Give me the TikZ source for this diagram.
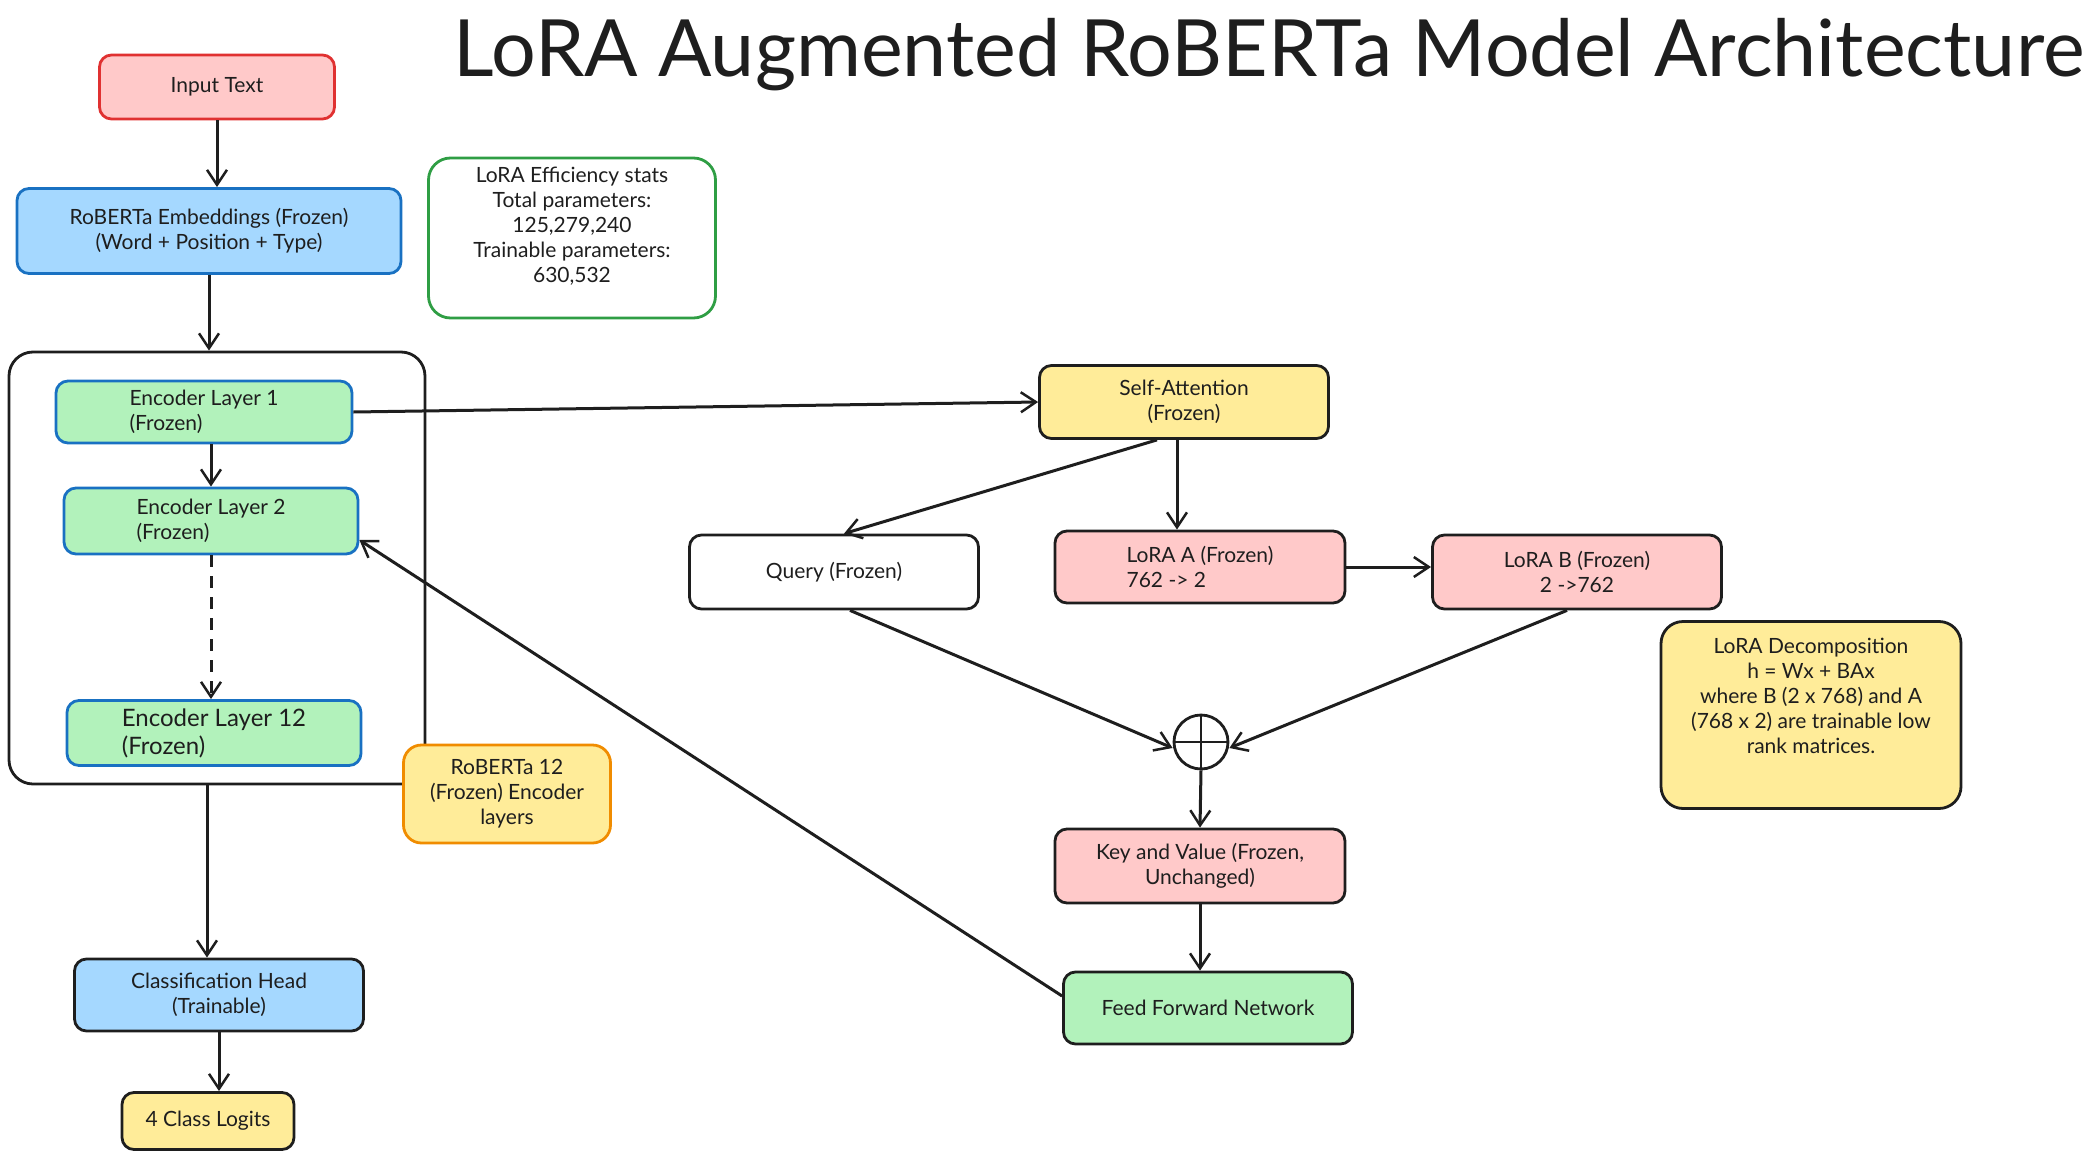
\documentclass[tikz,border=0pt]{standalone}
\usepackage{fontspec}
\setmainfont{Lato}
\usetikzlibrary{shapes,arrows.meta,positioning}

\definecolor{redfill}{HTML}{FFC9C9}
\definecolor{redline}{HTML}{E03131}
\definecolor{bluefill}{HTML}{A5D8FF}
\definecolor{blueline}{HTML}{1971C2}
\definecolor{greenfill}{HTML}{B2F2BB}
\definecolor{greenline}{HTML}{2F9E44}
\definecolor{yellowfill}{HTML}{FFEC99}
\definecolor{orangeline}{HTML}{F08C00}
\definecolor{ink}{HTML}{1E1E1E}

\begin{document}
\begin{tikzpicture}[x=1pt, y=-1pt, font=\fontsize{21}{25}\selectfont]
	\tikzstyle{block} = [rectangle, draw=ink, line width=2.8pt, text=ink,
	align=center, rounded corners=12pt, minimum width=289pt, minimum height=72pt]
	\tikzstyle{line} = [draw=ink, -{Straight Barb[length=15pt,width=20pt,line width=2.5pt]}, line width=3pt]
	\useasboundingbox (0,0) rectangle (2097,1159);
	% Title
	\node [text=ink, font=\fontsize{79}{84}\selectfont] (title) at (1269,55) {LoRA Augmented RoBERTa Model Architecture};
	% Left column
	\node [block, fill=redfill, draw=redline, minimum width=235pt, minimum height=64pt] (input) at (217,87) {Input Text};
	\node [block, fill=bluefill, draw=blueline, minimum width=384pt, minimum height=85pt] (embed) at (209,231) {RoBERTa Embeddings (Frozen)\\(Word + Position + Type)};
	\node [block, fill=white, draw=greenline, minimum width=287pt, minimum height=160pt, rounded corners=22pt] (stats) at (572,238) {LoRA Efficiency stats\\Total parameters:\\125,279,240\\Trainable parameters:\\630,532\\[2pt]};
	\node [draw=ink, line width=2.8pt, rounded corners=24pt, minimum width=416pt, minimum height=432pt] (stack) at (217,568) {};
	\node [block, fill=greenfill, draw=blueline, align=left, minimum width=296pt, minimum height=62pt] (enc1) at (204,412) {Encoder Layer 1\\(Frozen)};
	\node [block, fill=greenfill, draw=blueline, align=left, minimum width=294pt, minimum height=66pt] (enc2) at (211,521) {Encoder Layer 2\\(Frozen)};
	\node [block, fill=greenfill, draw=blueline, align=left, minimum width=294pt, minimum height=65pt, font=\fontsize{24}{28}\selectfont] (enc12) at (214,733) {Encoder Layer 12\\(Frozen)};
	\node [block, fill=yellowfill, draw=orangeline, minimum width=207pt, minimum height=98pt, rounded corners=18pt] (note) at (507,794) {RoBERTa 12\\(Frozen) Encoder\\layers};
	\node [block, fill=bluefill, minimum height=72pt] (head) at (219,995) {Classification Head\\(Trainable)};
	\node [block, fill=yellowfill, minimum width=172pt, minimum height=57pt] (logits) at (208,1121) {4 Class Logits};
	% Attention part
	\node [block, fill=yellowfill, minimum height=73pt] (attn) at (1184,402) {Self-Attention\\(Frozen)};
	\node [block, fill=white, minimum height=74pt] (query) at (834,572) {Query (Frozen)};
	\node [block, fill=redfill, align=left, minimum width=290pt] (loraA) at (1200,567) {LoRA A (Frozen)\\762 -> 2};
	\node [block, fill=redfill, minimum height=74pt] (loraB) at (1577,572) {LoRA B (Frozen)\\2 ->762};
	\node [block, fill=yellowfill, minimum width=300pt, minimum height=187pt, rounded corners=22pt] (decomp) at (1811,715) {LoRA Decomposition\\h = Wx + BAx\\where B (2 x 768) and A\\(768 x 2) are trainable low\\rank matrices.\\[14pt]};
	\node [circle, draw=ink, line width=2.8pt, minimum size=54pt] (plus) at (1201,742) {};
	\node [block, fill=redfill, minimum width=290pt, minimum height=74pt] (kv) at (1200,866) {Key and Value (Frozen,\\Unchanged)};
	\node [block, fill=greenfill] (ffn) at (1208,1008) {Feed Forward Network};
	% Draw edges
	\draw [draw=ink, line width=2.8pt] (plus.north) -- (plus.south) (plus.west) -- (plus.east);
	\path [line] (input) -- (input |- embed.north);
	\path [line] (embed.south) -- (embed.south |- stack.north);
	\path [line] (enc2.north |- enc1.south) -- (enc2.north);
	\path [line, dash pattern=on 12pt off 9pt] (enc2.south) -- (enc2.south |- enc12.north);
	\path [line] ([xshift=-12pt]head.north |- stack.south) -- ([xshift=-12pt]head.north);
	\path [line] (head.south) -- (head.south |- logits.north);
	\path [line] (enc1.east) -- (attn.west);
	\path [line] ([xshift=-27pt]attn.south) -- ([xshift=10pt]query.north);
	\path [line] ([xshift=-7pt]attn.south) -- ([xshift=-7pt]attn.south |- loraA.north);
	\path [line] (loraA.east) -- (loraA.east -| loraB.west);
	\path [line] ([xshift=16pt]query.south) -- ([yshift=-6pt]plus.west);
	\path [line] ([xshift=-10pt]loraB.south) -- ([yshift=-6pt]plus.east);
	\path [line] (plus.south) -- (kv.north);
	\path [line] (kv.south) -- (kv.south |- ffn.north);
	\path [line] ([yshift=12pt]ffn.west) -- ([yshift=-19pt]enc2.east);
\end{tikzpicture}
\end{document}
